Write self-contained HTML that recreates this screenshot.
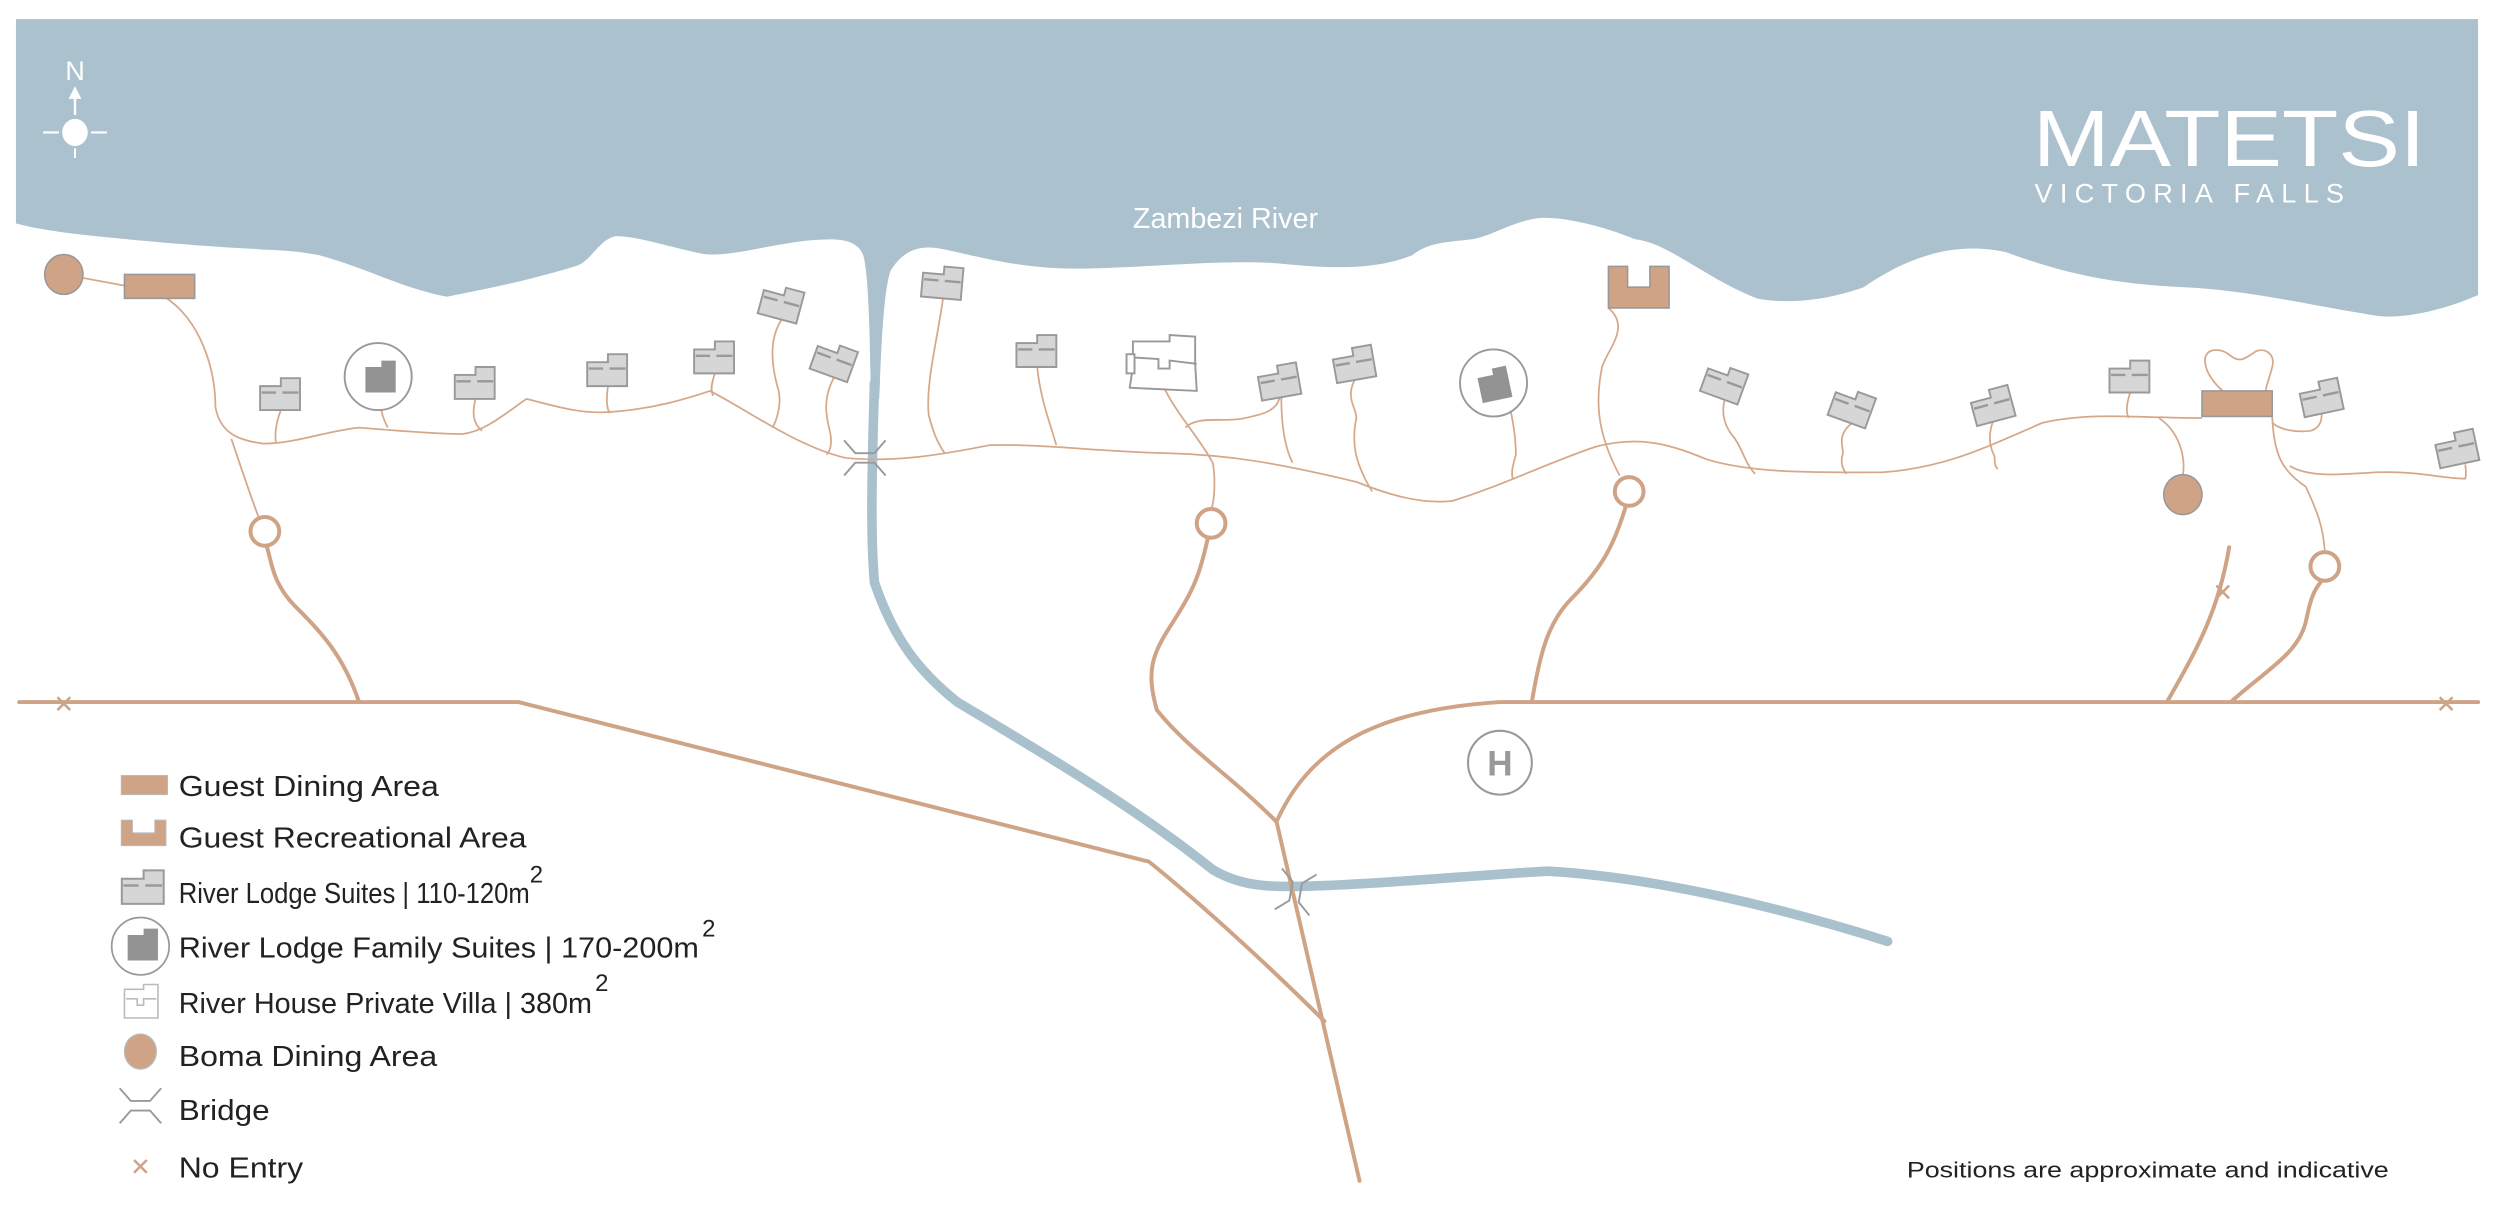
<!DOCTYPE html>
<html><head><meta charset="utf-8"><style>
html,body{margin:0;padding:0;background:#fff;}
svg{display:block;}
text{font-family:"Liberation Sans",sans-serif;}
</style></head><body>
<svg width="2502" height="1220" viewBox="0 0 1568 764.6" preserveAspectRatio="none" xmlns="http://www.w3.org/2000/svg">
<defs>
<g id="suite">
<path d="M-13,-5 L0,-5 L0,-10 L12,-10 L12,10 L-13,10 Z" fill="#d6d6d6" stroke="#999" stroke-width="1.2"/>
<path d="M-12,-1 L-3,-1 M1,-1 L11,-1" stroke="#999" stroke-width="1.5"/>
</g>
<g id="fam">
<path d="M-9,-6 L1,-6 L1,-10 L10,-10 L10,10 L-9,10 Z" fill="#939393"/>
</g>
<g id="bridge" fill="none" stroke="#999" stroke-width="1.2">
<path d="M-13,-11 L-6,-3 L6,-3 L13,-11 M-13,11 L-6,3 L6,3 L13,11"/>
</g>
<g id="xm" stroke="#cfa386" stroke-width="1.6"><path d="M-4,-4 L4,4 M4,-4 L-4,4"/></g>
</defs>

<!-- river -->
<path d="M10,12 L1553,12 L1553,185 C1530,195 1505,200 1490,198 C1440,190 1410,182 1369,180 C1320,178 1290,170 1257,158 C1220,150 1190,165 1168,180 C1140,190 1115,190 1101,187 C1070,175 1045,152 1025,150 C1000,140 975,135 962,137 C945,140 935,148 922,150 C905,152 895,152 885,160 C860,170 830,168 800,165 C760,162 700,170 660,168 C630,166 610,160 590,156 C575,153 565,158 558,170 C553,185 552,230 551,250 L546,250 C545,220 545,175 541,160 C538,152 530,150 520,150 C490,150 460,162 440,159 C420,155 400,148 386,148 C375,150 370,165 360,167 C330,176 310,180 280,186 C250,180 230,168 200,160 C180,156 165,157 160,156 C120,154 80,150 60,148 C40,146 20,143 10,140 Z" fill="#abc1ce"/>
<!-- tributary -->
<path d="M548,240 C547,280 545,330 548,365 C560,400 575,420 600,440 C650,470 710,505 760,545 C780,557 800,556 830,555 C880,553 930,548 970,546 C1040,550 1120,570 1183,590" fill="none" stroke="#a9c0cd" stroke-width="6" stroke-linecap="round"/>

<!-- compass -->
<text x="47" y="50" font-size="17" fill="#fff" text-anchor="middle">N</text>
<path d="M47,72 L47,60" stroke="#fff" stroke-width="1.5"/>
<path d="M43,62 L47,54 L51,62 Z" fill="#fff"/>
<ellipse cx="47" cy="83" rx="8" ry="8.5" fill="#fff"/>
<path d="M27,83 L37,83 M57,83 L67,83 M47,93 L47,99" stroke="#fff" stroke-width="1.3"/>

<text x="768" y="143" font-size="18" fill="#fff" text-anchor="middle">Zambezi River</text>
<text x="1274" y="104" font-size="50" fill="#fff" textLength="246" lengthAdjust="spacingAndGlyphs">MATETSI</text>
<text x="1275" y="127" font-size="17" fill="#fff" textLength="194" lengthAdjust="spacing">VICTORIA FALLS</text>

<!-- main roads -->
<g fill="none" stroke="#cfa386" stroke-width="2.5" stroke-linecap="round">
<path d="M12,440 L325,440 L720,540 C745,560 790,600 830,640"/>
<path d="M800,515 L852,740"/>
<path d="M800,515 C820,470 860,445 940,440 L1553,440"/>
<path d="M225,440 C215,410 200,395 185,380 C170,365 170,350 167,342"/>
<path d="M800,515 C770,485 745,470 725,445 C718,420 722,410 735,390 C748,370 752,360 757,337"/>
<path d="M960,440 C965,410 970,390 985,375 C1005,355 1012,340 1019,317"/>
<path d="M1398,440 C1420,420 1440,410 1445,390 C1448,375 1450,370 1455,364"/>
<path d="M1358,440 C1375,410 1390,385 1397,343"/>
</g>
<g fill="#fff" stroke="#cfa386" stroke-width="2.5">
<circle cx="166" cy="333" r="9"/>
<circle cx="759" cy="328" r="9"/>
<circle cx="1021" cy="308" r="9"/>
<circle cx="1457" cy="355" r="9"/>
</g>
<use href="#xm" x="40" y="441"/>
<use href="#xm" x="1533" y="441"/>
<use href="#xm" x="1393" y="371"/>

<!-- thin paths -->
<g fill="none" stroke="#d6a88a" stroke-width="1.1">
<path d="M40,172 L78,179"/>
<path d="M103,186 C125,200 135,230 135,255 C138,272 150,276 165,278 C185,278 205,270 225,268 C250,270 275,272 290,272 C305,270 318,258 330,250 C350,255 365,260 385,258 C410,256 430,250 445,245 C470,258 500,280 530,287 C560,290 590,285 620,279 C650,278 690,283 730,284 C770,285 800,290 850,302 C870,310 890,316 910,314 C940,305 970,290 1000,280 C1030,272 1050,280 1070,288 C1100,297 1140,296 1180,296 C1220,293 1245,280 1280,265 C1310,258 1340,262 1380,262"/>
<path d="M145,275 C150,290 155,305 162,324"/>
<path d="M176,257 C173,265 172,272 173,278"/>
<path d="M240,246 C237,255 240,262 243,268"/>
<path d="M298,250 C296,258 296,265 302,270"/>
<path d="M381,242 C380,250 380,255 382,259"/>
<path d="M448,234 C446,240 445,245 447,248"/>
<path d="M490,200 C480,215 485,235 488,245 C490,255 486,265 484,268"/>
<path d="M523,236 C515,250 518,262 520,270 C522,278 520,283 518,285"/>
<path d="M591,187 C588,210 580,240 582,260 C585,272 588,278 592,284"/>
<path d="M650,230 C652,250 658,265 662,279"/>
<path d="M730,244 C738,260 752,275 760,290 C762,300 761,315 759,319"/>
<path d="M743,268 C750,260 770,265 780,262 C790,260 800,258 802,249"/>
<path d="M803,249 C803,265 805,280 810,290"/>
<path d="M849,238 C843,250 850,255 850,262 C848,272 848,282 852,292 C855,300 858,305 860,308"/>
<path d="M945,250 C948,262 950,275 950,285 C948,292 947,296 948,300"/>
<path d="M1008,193 C1022,205 1008,218 1004,230 C1000,250 1000,270 1015,298"/>
<path d="M1081,250 C1078,260 1082,268 1085,272 C1092,280 1093,290 1100,297"/>
<path d="M1161,265 C1151,272 1155,280 1155,284 C1153,290 1155,294 1157,297"/>
<path d="M1249,264 C1245,275 1248,282 1250,286 C1250,290 1250,292 1252,294"/>
<path d="M1335,246 C1333,252 1332,258 1334,262"/>
<path d="M1353,262 C1365,270 1370,285 1368,298"/>
<path d="M1393,245 C1385,238 1381,230 1382,224 C1384,218 1392,218 1398,223 C1404,228 1408,224 1414,220 C1420,218 1426,222 1424,230 C1422,238 1420,242 1420,245"/>
<path d="M1424,265 C1430,270 1440,271 1448,270 C1455,268 1455,262 1455,259"/>
<path d="M1424,261 C1425,285 1430,295 1445,305 C1452,320 1456,330 1457,346"/>
<path d="M1435,292 C1448,300 1470,297 1490,296 C1515,295 1530,300 1545,300 C1546,296 1545,293 1545,291"/>
</g>

<!-- dining & boma -->
<ellipse cx="40" cy="172" rx="12" ry="12.5" fill="#cfa386" stroke="#999" stroke-width="1"/>
<rect x="78" y="172" width="44" height="15" fill="#cfa386" stroke="#999" stroke-width="1"/>
<rect x="1380" y="245" width="44" height="16" fill="#cfa386" stroke="#999" stroke-width="1"/>
<ellipse cx="1368" cy="310" rx="12" ry="12.5" fill="#cfa386" stroke="#999" stroke-width="1"/>
<path d="M1008,167 L1020,167 L1020,180 L1034,180 L1034,167 L1046,167 L1046,193 L1008,193 Z" fill="#cfa386" stroke="#999" stroke-width="1"/>

<!-- suites -->
<use href="#suite" transform="translate(176,247)"/>
<use href="#suite" transform="translate(298,240)"/>
<use href="#suite" transform="translate(381,232)"/>
<use href="#suite" transform="translate(448,224)"/>
<use href="#suite" transform="translate(490,190) rotate(15)"/>
<use href="#suite" transform="translate(523,226) rotate(20)"/>
<use href="#suite" transform="translate(591,177) rotate(5)"/>
<use href="#suite" transform="translate(650,220)"/>
<use href="#suite" transform="translate(802,239) rotate(-10)"/>
<use href="#suite" transform="translate(849,228) rotate(-10)"/>
<use href="#suite" transform="translate(1081,240) rotate(20)"/>
<use href="#suite" transform="translate(1161,255) rotate(20)"/>
<use href="#suite" transform="translate(1249,254) rotate(-15)"/>
<use href="#suite" transform="translate(1335,236)"/>
<use href="#suite" transform="translate(1455,249) rotate(-12)"/>
<use href="#suite" transform="translate(1540,281) rotate(-12)"/>

<!-- family suites -->
<circle cx="237" cy="236" r="21" fill="#fff" stroke="#999" stroke-width="1.2"/>
<use href="#fam" transform="translate(238,236)"/>
<circle cx="936" cy="240" r="21" fill="#fff" stroke="#999" stroke-width="1.2"/>
<use href="#fam" transform="translate(936,241) rotate(-12)"/>

<!-- villa -->
<g fill="#fff" stroke="#999" stroke-width="1.2">
<path d="M710,230 L710,214 L733,214 L733,210 L749,211 L749,228 L750,245 L708,243 Z"/>
<path d="M710,224 L726,225 L726,231 L733,231 L733,226 L750,228" fill="none"/>
<rect x="706" y="222" width="5" height="12"/>
</g>

<!-- bridges -->
<use href="#bridge" transform="translate(542,287)"/>
<use href="#bridge" transform="translate(812,559) rotate(100)"/>

<!-- helipad -->
<circle cx="940" cy="478" r="20" fill="#fff" stroke="#999" stroke-width="1.3"/>
<text x="940" y="486" font-size="22" font-weight="bold" fill="#999" text-anchor="middle">H</text>

<!-- legend -->
<rect x="76" y="486" width="29" height="12" fill="#cfa386" stroke="#bbb" stroke-width="0.6"/>
<path d="M76,514 L83,514 L83,522 L97,522 L97,514 L104,514 L104,530 L76,530 Z" fill="#cfa386" stroke="#bbb" stroke-width="0.6"/>
<use href="#suite" transform="translate(90,556) scale(1.05)"/>
<circle cx="88" cy="593" r="18" fill="#fff" stroke="#999" stroke-width="1.1"/>
<use href="#fam" transform="translate(89,592)"/>
<g fill="#fff" stroke="#bbb" stroke-width="1">
<path d="M78,631 L78,620 L90,620 L90,617 L99,617 L99,638 L78,638 Z"/>
<path d="M79,626 L86,626 L86,630 L90,630 L90,626 L98,626" fill="none"/>
</g>
<ellipse cx="88" cy="659" rx="10" ry="11" fill="#cfa386" stroke="#bbb" stroke-width="0.8"/>
<use href="#bridge" transform="translate(88,693)"/>
<use href="#xm" x="88" y="731"/>

<g font-size="18" fill="#222">
<text x="112" y="499" textLength="163" lengthAdjust="spacingAndGlyphs">Guest Dining Area</text>
<text x="112" y="531" textLength="218" lengthAdjust="spacingAndGlyphs">Guest Recreational Area</text>
<text x="112" y="566" textLength="220" lengthAdjust="spacingAndGlyphs">River Lodge Suites | 110-120m</text>
<text x="332" y="553" font-size="15">2</text>
<text x="112" y="600" textLength="326" lengthAdjust="spacingAndGlyphs">River Lodge Family Suites | 170-200m</text>
<text x="440" y="587" font-size="15">2</text>
<text x="112" y="635" textLength="259" lengthAdjust="spacingAndGlyphs">River House Private Villa | 380m</text>
<text x="373" y="621" font-size="15">2</text>
<text x="112" y="668" textLength="162" lengthAdjust="spacingAndGlyphs">Boma Dining Area</text>
<text x="112" y="702" textLength="57" lengthAdjust="spacingAndGlyphs">Bridge</text>
<text x="112" y="738" textLength="78" lengthAdjust="spacingAndGlyphs">No Entry</text>
</g>
<text x="1195" y="738" font-size="14" fill="#222" textLength="302" lengthAdjust="spacingAndGlyphs">Positions are approximate and indicative</text>
</svg>
</body></html>
